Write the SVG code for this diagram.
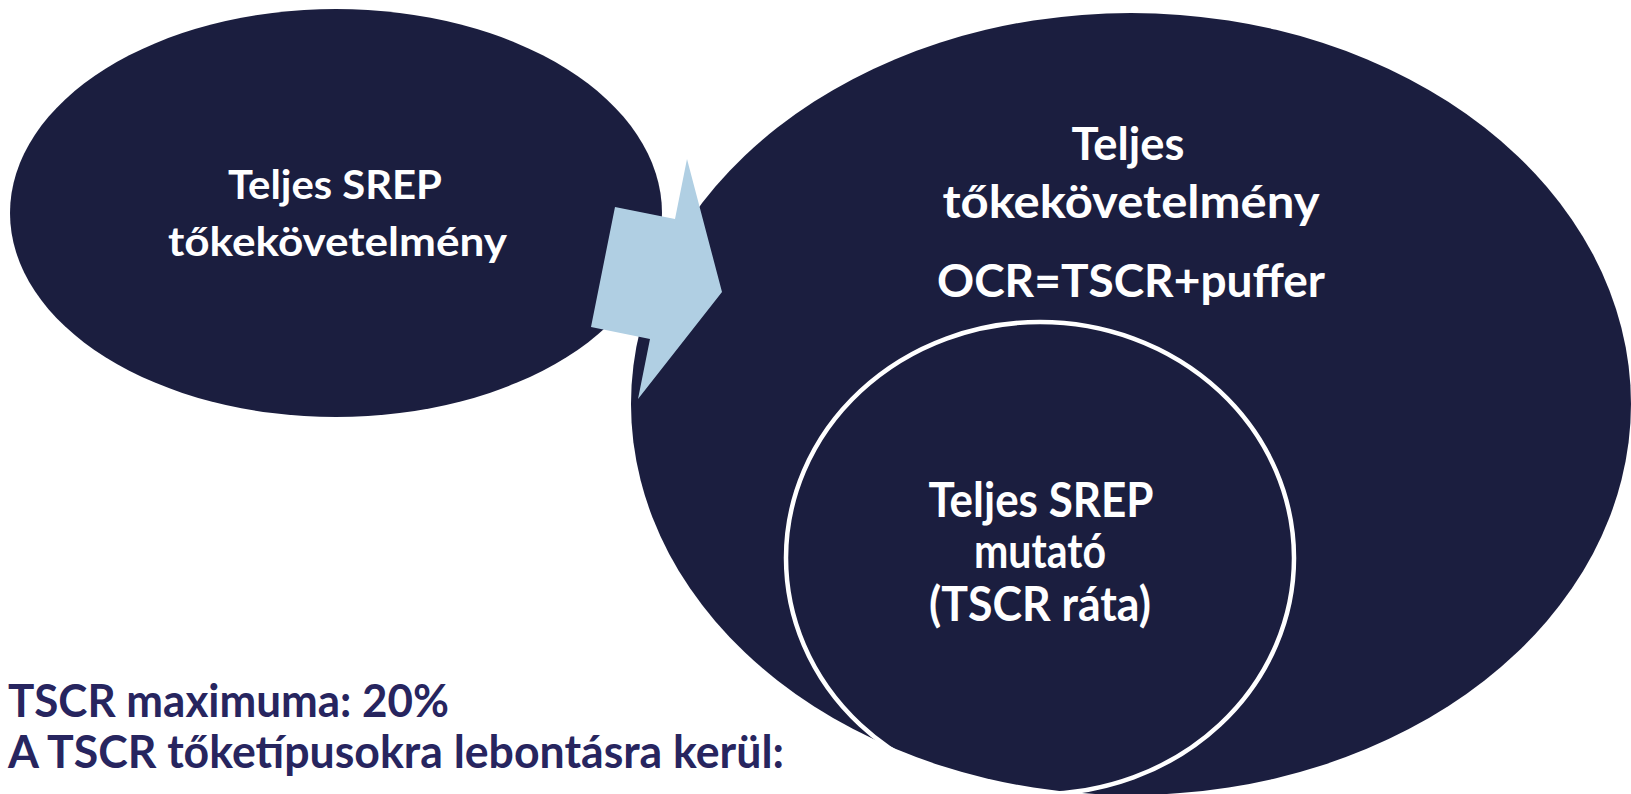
<svg xmlns="http://www.w3.org/2000/svg" width="1631" height="794" viewBox="0 0 1631 794">
<defs>
<style>
.blob{fill:#1b1e3f}
.ring{fill:none;stroke:#ffffff;stroke-width:4.5}
.arrow{fill:#b0cfe3}
.lbl{font-family:Lato,"Open Sans","Liberation Sans",sans-serif;font-weight:700;fill:#ffffff;text-anchor:middle}
.note{font-family:Lato,"Open Sans","Liberation Sans",sans-serif;font-weight:700;fill:#27255f;font-size:45px}
</style>
</defs>
<rect width="1631" height="794" fill="#ffffff"/>
<g id="node-left">
<ellipse class="blob" cx="336" cy="213" rx="326" ry="204"/>
<text class="lbl" font-size="41" x="335" y="199" textLength="214" lengthAdjust="spacingAndGlyphs">Teljes SREP</text>
<text class="lbl" font-size="41" x="337.5" y="256" textLength="339" lengthAdjust="spacingAndGlyphs">tőkekövetelmény</text>
</g>
<g id="node-ocr">
<ellipse class="blob" cx="1131" cy="404" rx="500" ry="391"/>
<text class="lbl" font-size="46" x="1128" y="160" textLength="113" lengthAdjust="spacingAndGlyphs">Teljes</text>
<text class="lbl" font-size="46" x="1131" y="218" textLength="377" lengthAdjust="spacingAndGlyphs">tőkekövetelmény</text>
<text class="lbl" font-size="46" x="1131" y="297" textLength="388" lengthAdjust="spacingAndGlyphs">OCR=TSCR+puffer</text>
</g>
<g id="node-tscr">
<ellipse class="ring" cx="1040" cy="558" rx="254" ry="236"/>
<text class="lbl" font-size="47" x="1041" y="517" textLength="225" lengthAdjust="spacingAndGlyphs">Teljes SREP</text>
<text class="lbl" font-size="47" x="1040" y="568" textLength="132" lengthAdjust="spacingAndGlyphs">mutató</text>
<text class="lbl" font-size="47" x="1040" y="621" textLength="222" lengthAdjust="spacingAndGlyphs">(TSCR ráta)</text>
</g>
<g id="connectors">
<polygon class="arrow" points="687,159 722,292 638,399 650,339 591,327 615,207 675,219"/>
</g>
<g id="notes">
<text class="note" x="8" y="717" textLength="441" lengthAdjust="spacingAndGlyphs">TSCR maximuma: 20%</text>
<text class="note" x="8" y="768" textLength="776" lengthAdjust="spacingAndGlyphs">A TSCR tőketípusokra lebontásra kerül:</text>
</g>
</svg>
